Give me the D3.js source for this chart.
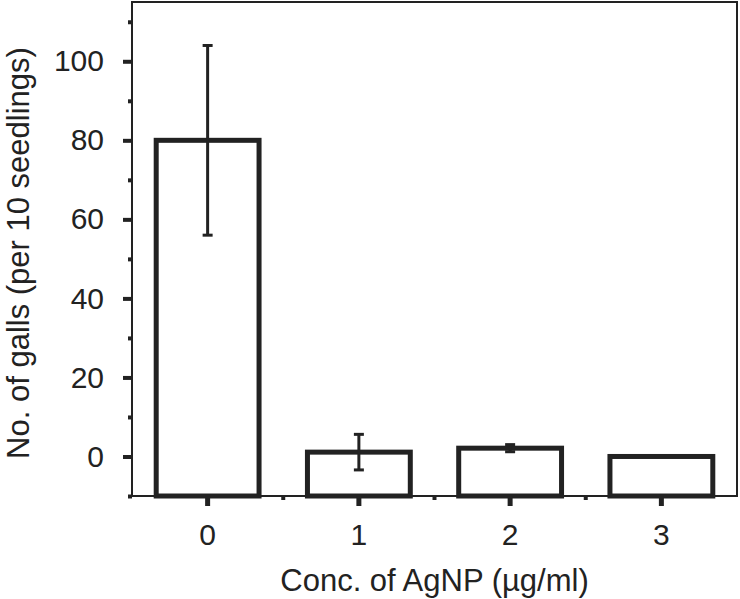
<!DOCTYPE html>
<html>
<head>
<meta charset="utf-8">
<script src="https://cdn.jsdelivr.net/npm/d3@7"></script>
<style>
  body { margin: 0; background: #fff; }
  svg { font-family: "Liberation Sans", Arial, Helvetica, sans-serif; }
</style>
</head>
<body>
<div id="chart"></div>
<script>
// data
var categories = ["0", "1", "2", "3"];
var galls = [80, 1.1, 2.1, 0];
var errors = [24, 4.5, 0.9, 0];
var yTicks = [0, 20, 40, 60, 80, 100];
var yMinorTicks = [-10, 10, 30, 50, 70, 90, 110];

var W = 740, H = 599;
var margin = {left: 132, right: 3, top: 2, bottom: 103};
var width = W - margin.left - margin.right,
    height = H - margin.top - margin.bottom;
var ink = "#222";

var svg = d3.select("#chart").append("svg")
  .attr("width", W)
  .attr("height", H);
var g = svg.append("g")
  .attr("transform", `translate(${margin.left},${margin.top})`);

var x = d3.scaleBand()
  .domain(categories)
  .range([0, width])
  .padding(0);
var y = d3.scaleLinear()
  .domain([-10, 115])
  .range([height, 0]);

var barW = x.bandwidth() * 0.68;

// bars, drawn from the bottom of the axis
g.selectAll("rect.bar")
  .data(galls)
  .enter().append("rect")
  .attr("class", "bar")
  .attr("x", (d, i) => x(categories[i]) + (x.bandwidth() - barW) / 2)
  .attr("y", d => y(d))
  .attr("width", barW)
  .attr("height", d => y(-10) - y(d))
  .attr("fill", "none")
  .attr("stroke", ink)
  .attr("stroke-width", 5);

// error bars
var eb = g.selectAll("g.err")
  .data(galls.map((d, i) => ({v: d, e: errors[i], c: categories[i]})).filter(d => d.e > 0))
  .enter().append("g")
  .attr("class", "err")
  .attr("transform", d => `translate(${x(d.c) + x.bandwidth() / 2},0)`);
eb.append("line")
  .attr("y1", d => y(d.v - d.e))
  .attr("y2", d => y(d.v + d.e))
  .attr("stroke", ink)
  .attr("stroke-width", 3);
eb.selectAll("line.cap")
  .data(d => [d.v - d.e, d.v + d.e])
  .enter().append("line")
  .attr("class", "cap")
  .attr("x1", -5).attr("x2", 5)
  .attr("y1", d => y(d)).attr("y2", d => y(d))
  .attr("stroke", ink)
  .attr("stroke-width", 3);

// frame
g.append("rect")
  .attr("x", 0).attr("y", 0)
  .attr("width", width).attr("height", height)
  .attr("fill", "none")
  .attr("stroke", ink)
  .attr("stroke-width", 2);

// y axis
var yAxis = g.append("g")
  .call(d3.axisLeft(y).tickValues(yTicks).tickSize(9).tickPadding(19));
yAxis.select(".domain").remove();
yAxis.selectAll(".tick line").attr("stroke", ink).attr("stroke-width", 4);
yAxis.selectAll(".tick text").attr("fill", ink).style("font-size", "30px");
g.append("g")
  .call(d3.axisLeft(y).tickValues(yMinorTicks).tickSize(4).tickFormat(""))
  .call(a => a.select(".domain").remove())
  .selectAll(".tick line").attr("stroke", ink).attr("stroke-width", 4);

// x axis
var xAxis = g.append("g")
  .attr("transform", `translate(0,${height})`)
  .call(d3.axisBottom(x).tickSize(10).tickPadding(18));
xAxis.select(".domain").remove();
xAxis.selectAll(".tick line").attr("stroke", ink).attr("stroke-width", 5);
xAxis.selectAll(".tick text").attr("fill", ink).style("font-size", "30px");
g.append("g")
  .attr("transform", `translate(0,${height})`)
  .selectAll("line")
  .data(categories.slice(1))
  .enter().append("line")
  .attr("x1", d => x(d)).attr("x2", d => x(d))
  .attr("y1", 0).attr("y2", 4)
  .attr("stroke", ink)
  .attr("stroke-width", 4);

// axis titles
svg.append("text")
  .attr("x", margin.left + width / 2)
  .attr("y", 591)
  .attr("text-anchor", "middle")
  .style("font-size", "31px")
  .attr("fill", ink)
  .text("Conc. of AgNP (\u00b5g/ml)");
svg.append("text")
  .attr("transform", `translate(29,${253}) rotate(-90)`)
  .attr("text-anchor", "middle")
  .style("font-size", "31px")
  .attr("fill", ink)
  .text("No. of galls (per 10 seedlings)");
</script>
</body>
</html>
